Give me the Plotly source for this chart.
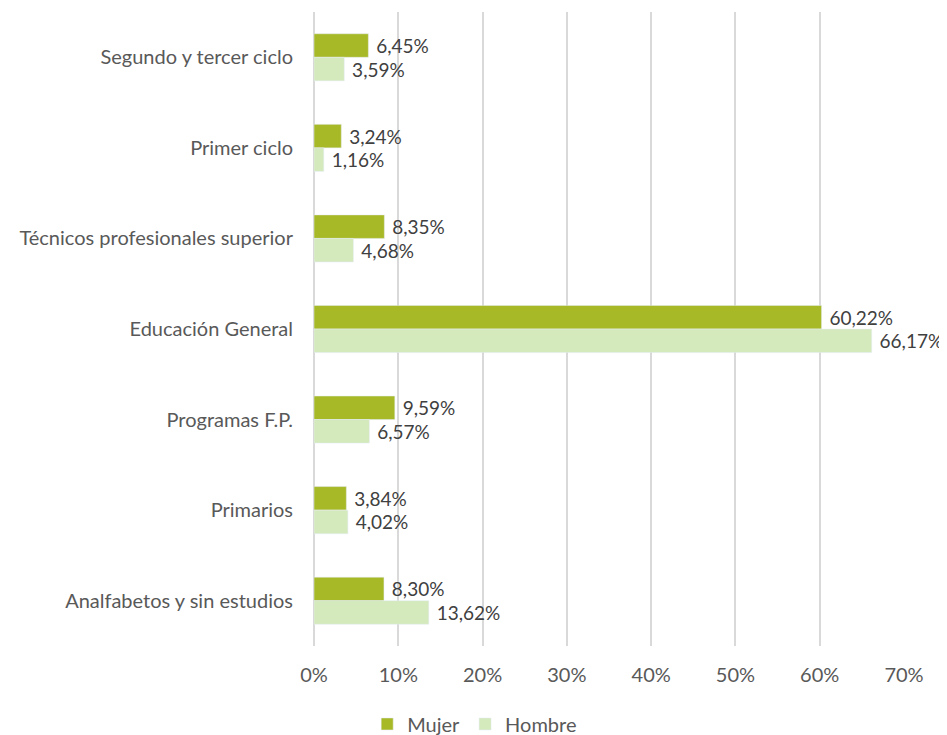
import plotly.graph_objects as go

categories = ["Segundo y tercer ciclo", "Primer ciclo", "Técnicos profesionales superior",
              "Educación General", "Programas F.P.", "Primarios", "Analfabetos y sin estudios"]
mujer = [6.45, 3.24, 8.35, 60.22, 9.59, 3.84, 8.30]
hombre = [3.59, 1.16, 4.68, 66.17, 6.57, 4.02, 13.62]
x_ticks = [0, 10, 20, 30, 40, 50, 60, 70]

def fmt(v):
    return "\u00a0" + f"{v:.2f}".replace(".", ",") + "%"

FONT = "Lato"
TXT = "#595959"
FS = 20
LFS = 19

fig = go.Figure()
fig.add_trace(go.Bar(
    y=categories, x=mujer, orientation="h", name="Mujer",
    marker=dict(color="#a8b927"),
    text=[fmt(v) for v in mujer], textposition="outside",
    textfont=dict(size=LFS, color="#404040", family=FONT), cliponaxis=False,
))
fig.add_trace(go.Bar(
    y=categories, x=hombre, orientation="h", name="Hombre",
    marker=dict(color="#d4e9bc"),
    text=[fmt(v) for v in hombre], textposition="outside",
    textfont=dict(size=LFS, color="#404040", family=FONT), cliponaxis=False,
))

fig.update_layout(
    width=939, height=727,
    barmode="group", bargap=0.48, bargroupgap=0,
    plot_bgcolor="white", paper_bgcolor="white",
    margin=dict(l=306, r=43, t=4, b=89, autoexpand=False),
    font=dict(family=FONT, size=FS, color=TXT),
    xaxis=dict(range=[0, 70], tickvals=x_ticks, ticktext=[f"{v}%" for v in x_ticks],
               showgrid=True, gridcolor="#d9d9d9", gridwidth=1.5, zeroline=True,
               zerolinecolor="#d9d9d9", zerolinewidth=1.5, showline=False,
               automargin=False,
               ticklabelstandoff=15, tickfont=dict(size=FS, color=TXT)),
    yaxis=dict(autorange="reversed", showgrid=False, showline=False,
               automargin=False,
               ticklabelstandoff=20, tickfont=dict(size=FS, color=TXT)),
    legend=dict(orientation="h", xref="container", x=0.497, xanchor="center",
                yref="paper", y=-0.123, yanchor="middle", itemwidth=30,
                font=dict(size=FS, color=TXT), traceorder="normal"),
)

fig.write_html("out.html")
